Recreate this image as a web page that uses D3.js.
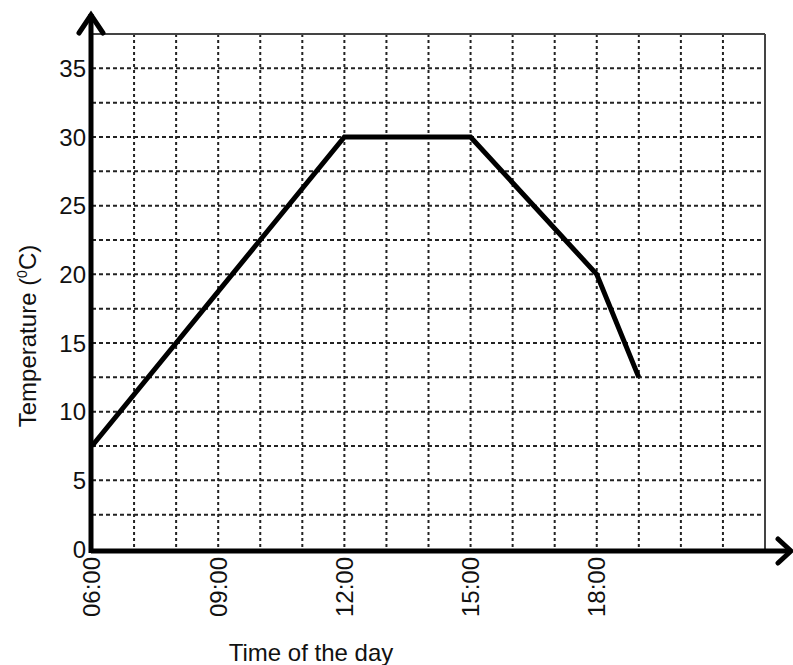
<!DOCTYPE html>
<html>
<head>
<meta charset="utf-8">
<script src="https://cdn.jsdelivr.net/npm/d3@7"></script>
<style>
  html, body { margin: 0; padding: 0; background: #fff; }
  svg { display: block; }
  text { font-family: "Liberation Sans", Arial, sans-serif; fill: #111; }
</style>
</head>
<body>
<svg id="chart" width="793" height="665"></svg>
<script>
// Data
const hours = [6, 12, 15, 18, 19];
const temps = [7.5, 30, 30, 20, 12.5];
const xTickHours = [6, 9, 12, 15, 18];
const xTickLabels = ["06:00", "09:00", "12:00", "15:00", "18:00"];
const yTicks = [0, 5, 10, 15, 20, 25, 30, 35];
const xGridHours = d3.range(7, 22);       // 07 .. 21
const yGridValues = d3.range(2.5, 37.5, 2.5);

(function () {
const svg = d3.select("#chart");
const pLeft = 92, pRight = 765, pTop = 34, pBottom = 549;

const x = d3.scaleLinear().domain([6, 22]).range([pLeft, pRight]);
const y = d3.scaleLinear().domain([0, 37.5]).range([pBottom, pTop]);

// grid
const g = svg.append("g");
g.selectAll("line.h").data(yGridValues).join("line")
  .attr("class", "h")
  .attr("x1", pLeft).attr("x2", pRight)
  .attr("y1", d => y(d)).attr("y2", d => y(d))
  .attr("stroke", "#222").attr("stroke-width", 2)
  .attr("stroke-dasharray", "4,3");
g.selectAll("line.v").data(xGridHours).join("line")
  .attr("class", "v")
  .attr("x1", d => x(d)).attr("x2", d => x(d))
  .attr("y1", pTop).attr("y2", pBottom)
  .attr("stroke", "#222").attr("stroke-width", 2)
  .attr("stroke-dasharray", "3,3");

// frame top/right
svg.append("line").attr("x1", pLeft).attr("x2", pRight).attr("y1", pTop).attr("y2", pTop)
  .attr("stroke", "#444").attr("stroke-width", 2);
svg.append("line").attr("x1", pRight).attr("x2", pRight).attr("y1", pTop).attr("y2", pBottom + 2)
  .attr("stroke", "#444").attr("stroke-width", 2);

// data line
const line = d3.line().x((d, i) => x(hours[i])).y(d => y(d));
svg.append("path").datum(temps)
  .attr("d", line)
  .attr("fill", "none").attr("stroke", "#000").attr("stroke-width", 5)
  .attr("stroke-linejoin", "miter");

// x tick labels
svg.selectAll("text.xt").data(xTickHours).join("text")
  .attr("class", "xt")
  .attr("transform", d => `translate(${x(d)},557) rotate(-90)`)
  .attr("text-anchor", "end")
  .attr("dy", "0.35em")
  .attr("font-size", 24)
  .text((d, i) => xTickLabels[i]);

// y tick labels
svg.selectAll("text.yt").data(yTicks).join("text")
  .attr("class", "yt")
  .attr("x", 86).attr("y", d => y(d))
  .attr("text-anchor", "end")
  .attr("dy", "0.36em")
  .attr("font-size", 24)
  .text(d => d);

// axes (thick) with chevron arrows
const axisY = pBottom + 2;
svg.append("line").attr("x1", pLeft - 1).attr("x2", 790).attr("y1", axisY).attr("y2", axisY)
  .attr("stroke", "#000").attr("stroke-width", 5);
svg.append("line").attr("x1", pLeft - 1).attr("x2", pLeft - 1).attr("y1", axisY + 2).attr("y2", 14)
  .attr("stroke", "#000").attr("stroke-width", 5);
svg.append("path")
  .attr("d", `M${pLeft - 13},${33} L${pLeft - 1},${15} L${pLeft + 11},${33}`)
  .attr("fill", "none").attr("stroke", "#000").attr("stroke-width", 5)
  .attr("stroke-linecap", "round").attr("stroke-linejoin", "miter");
svg.append("path")
  .attr("d", `M${778},${axisY - 12} L${791},${axisY} L${778},${axisY + 12}`)
  .attr("fill", "none").attr("stroke", "#000").attr("stroke-width", 5)
  .attr("stroke-linecap", "round").attr("stroke-linejoin", "miter");

// axis titles
const yt = svg.append("text")
  .attr("transform", "translate(36,336) rotate(-90)")
  .attr("text-anchor", "middle")
  .attr("font-size", 24);
yt.append("tspan").text("Temperature (");
yt.append("tspan").attr("font-size", 14).attr("dy", -9).text("0");
yt.append("tspan").attr("dy", 9).text("C)");

svg.append("text")
  .attr("x", 311).attr("y", 661)
  .attr("text-anchor", "middle")
  .attr("font-size", 24)
  .text("Time of the day");
})();
</script>
</body>
</html>
